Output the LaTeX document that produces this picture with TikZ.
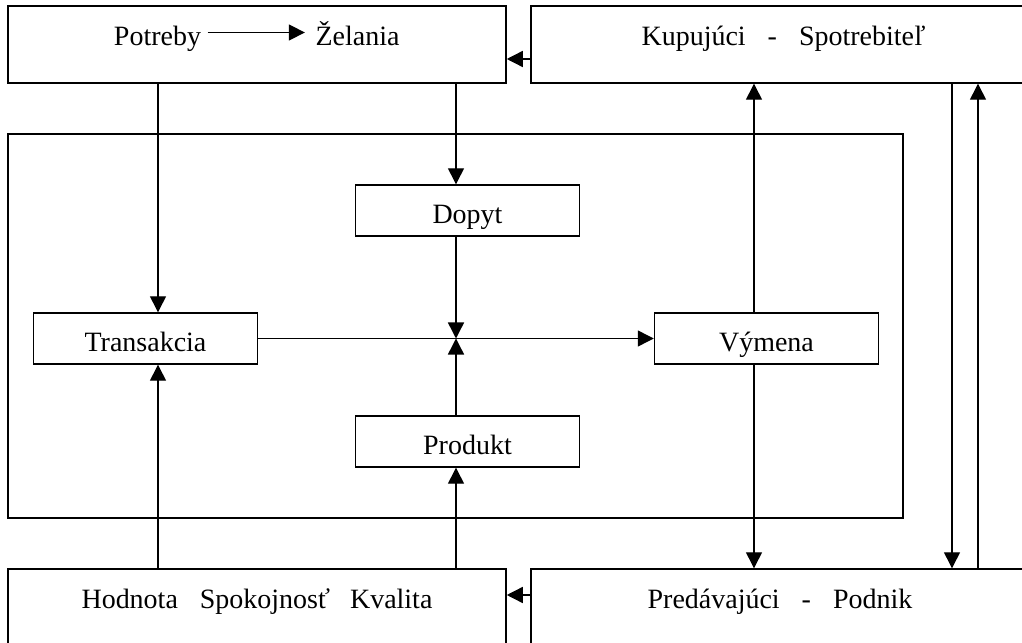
\documentclass[tikz,border=0pt]{standalone}
\usepackage{fontspec}
\setmainfont{Liberation Serif}
\usetikzlibrary{arrows.meta}

\begin{document}
\begin{tikzpicture}[x=0.025cm,y=-0.025cm,->,>={Triangle[length=0.4cm,width=0.4cm]},
  line width=1pt,font=\fontsize{19.9}{24}\selectfont,
  every node/.style={text height=0.75cm,text depth=0.1cm},
  main node/.style={rectangle,draw,minimum width=5.6cm,minimum height=1.275cm},
  frame/.style={rectangle,draw},txt/.style={inner sep=0pt}]
  \useasboundingbox (0,0) rectangle (1022,643);
  \clip (0,0) rectangle (1022,643);
  \node[frame,minimum width=12.45cm,minimum height=1.925cm] (needs) at (257,44.5) {};
  \node[frame,minimum width=12.725cm,minimum height=1.925cm] (buyer) at (785.5,44.5) {};
  \node[frame,minimum width=22.375cm,minimum height=9.6cm] (market) at (455.5,326) {};
  \node[frame,minimum width=12.45cm,minimum height=2.5cm] (value) at (257,619) {};
  \node[frame,minimum width=12.725cm,minimum height=2.5cm] (seller) at (785.5,619) {};
  \node[txt] (potreby) at (157.5,32.5) {Potreby};
  \node[txt] (zelania) at (357.5,32.5) {Želania};
  \node[txt] (kupujuci) at (783.5,32.5) {Kupujúci\hspace{0.55cm}-\hspace{0.55cm}Spotrebiteľ};
  \node[txt] (hodnota) at (257,595) {Hodnota\hspace{0.55cm}Spokojnosť\hspace{0.5cm}Kvalita};
  \node[txt] (predavajuci) at (780,595) {Predávajúci\hspace{0.55cm}-\hspace{0.55cm}Podnik};
  \node[main node] (dopyt) at (467.5,210.5) {Dopyt};
  \node[main node] (transakcia) at (145.5,338.5) {Transakcia};
  \node[main node] (vymena) at (766.5,338.5) {Výmena};
  \node[main node] (produkt) at (467.5,441.5) {Produkt};
  \coordinate (j) at (456,338.5);
  \coordinate (a) at (158,0);
  \coordinate (b) at (754,0);
  \coordinate (c) at (952,0);
  \coordinate (d) at (978,0);
  \coordinate (e) at (0,59);
  \coordinate (f) at (0,595);
  \path (potreby) edge[shorten <=0.15cm,shorten >=0.25cm] (zelania)
    (buyer.west |- e) edge (needs.east |- e)
    (seller.west |- f) edge (value.east |- f)
    (needs.south -| a) edge (transakcia.north -| a)
    (value.north -| a) edge (transakcia.south -| a)
    (needs.south -| j) edge (dopyt.north -| j)
    (dopyt.south -| j) edge (j)
    (produkt.north -| j) edge (j)
    (value.north -| j) edge (produkt.south -| j)
    (transakcia) edge (vymena)
    (vymena.north -| b) edge (buyer.south -| b)
    (vymena.south -| b) edge (seller.north -| b)
    (buyer.south -| c) edge (seller.north -| c)
    (seller.north -| d) edge (buyer.south -| d);
\end{tikzpicture}
\end{document}
